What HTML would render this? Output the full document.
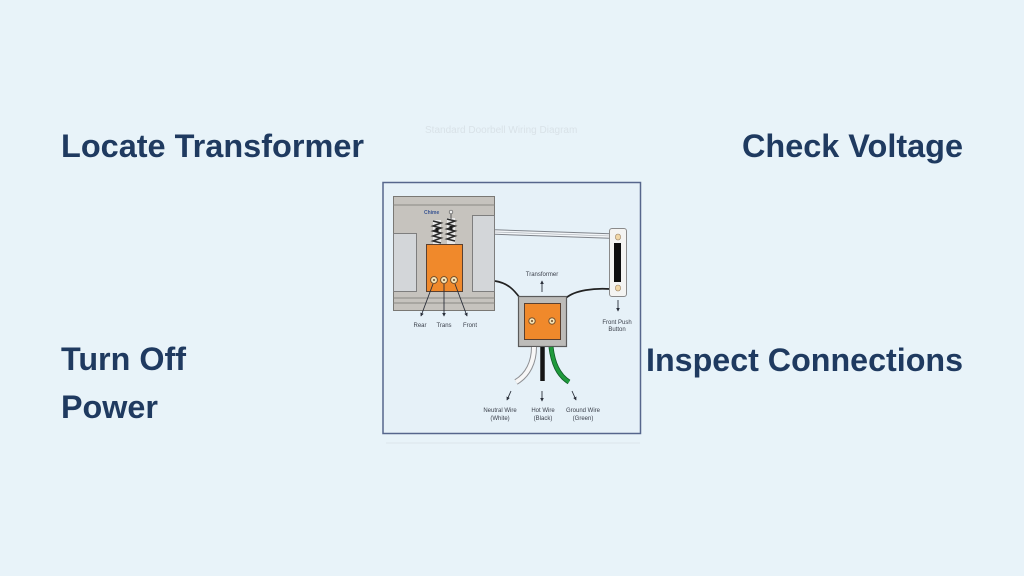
<!DOCTYPE html>
<html>
<head>
<meta charset="utf-8">
<style>
  html,body{margin:0;padding:0;background:#e8f3f9;}
  body{width:1024px;height:576px;overflow:hidden;}
  svg{display:block;}
  .h{font-family:"Liberation Sans",Arial,sans-serif;font-weight:bold;font-size:32.3px;fill:#1f3a60;}
  .s{font-family:"Liberation Sans",Arial,sans-serif;font-size:6px;fill:#3a3f4a;}
</style>
</head>
<body>
<svg width="1024" height="576" viewBox="0 0 1024 576" xmlns="http://www.w3.org/2000/svg">
  <defs>
    <marker id="ah" viewBox="0 0 6 6" refX="5" refY="3" markerWidth="4" markerHeight="4" orient="auto">
      <path d="M0,0 L6,3 L0,6 z" fill="#2a2f3a"/>
    </marker>
  </defs>
  <rect x="0" y="0" width="1024" height="576" fill="#e8f3f9"/>

  <!-- headings -->
  <text class="h" x="61" y="157" textLength="303" lengthAdjust="spacingAndGlyphs">Locate Transformer</text>
  <text class="h" x="742" y="157" textLength="221" lengthAdjust="spacingAndGlyphs">Check Voltage</text>
  <text class="h" x="61" y="370">Turn Off</text>
  <text class="h" x="61" y="418">Power</text>
  <text class="h" x="646" y="371" textLength="317" lengthAdjust="spacingAndGlyphs">Inspect Connections</text>

  <!-- faint ghost text -->
  <text x="425" y="133" font-family="Liberation Sans, sans-serif" font-size="10" fill="#d9e2e8">Standard Doorbell Wiring Diagram</text>
  <line x1="386" y1="443" x2="640" y2="443" stroke="#dde6ec" stroke-width="1"/>

  <!-- diagram frame -->
  <rect x="383" y="182.5" width="257.5" height="251" fill="#e6f1f8" stroke="#56668c" stroke-width="1.5"/>

  <!-- chime housing -->
  <rect x="393.5" y="196.5" width="101" height="114" fill="#c6c3be" stroke="#7a7874" stroke-width="1"/>
  <line x1="393.5" y1="205" x2="494.5" y2="205" stroke="#8a8884" stroke-width="1"/>
  <line x1="393.5" y1="298" x2="494.5" y2="298" stroke="#8a8884" stroke-width="1"/>
  <line x1="393.5" y1="303" x2="494.5" y2="303" stroke="#8a8884" stroke-width="1"/>
  <rect x="393.5" y="233.5" width="23" height="58" fill="#d3d6d9" stroke="#7e7e7e" stroke-width="1"/>
  <rect x="472.5" y="215.5" width="22" height="76" fill="#d3d6d9" stroke="#7e7e7e" stroke-width="1"/>

  <!-- springs -->
  <rect x="433" y="220" width="8" height="24" fill="#e8e8e8"/>
  <rect x="447" y="218" width="8" height="26" fill="#e8e8e8"/>
  <g stroke="#2a2a2a" stroke-width="1.5" fill="none">
    <path d="M433,221 L441,223 L433,226 L441,228 L433,231 L441,233 L433,236 L441,238 L433,241 L441,243"/>
    <path d="M447,219 L455,221 L447,224 L455,226 L447,229 L455,231 L447,234 L455,236 L447,239 L455,241"/>
  </g>
  <rect x="435.5" y="228" width="3" height="4" fill="#1a1a1a"/>
  <rect x="449.5" y="226" width="3" height="4" fill="#1a1a1a"/>
  <line x1="451" y1="213" x2="451" y2="219" stroke="#555" stroke-width="1"/>
  <circle cx="451" cy="212" r="1.8" fill="#eee" stroke="#555" stroke-width="0.7"/>
  <text x="424" y="214" font-family="Liberation Sans, sans-serif" font-size="5" font-weight="bold" fill="#3a5592">Chime</text>

  <!-- orange chime block -->
  <rect x="426.5" y="244.5" width="36" height="47" fill="#f0892b" stroke="#5a4030" stroke-width="1"/>
  <g fill="#f5e2b4" stroke="#6a4a2a" stroke-width="0.9">
    <circle cx="434" cy="280" r="3.4"/>
    <circle cx="444" cy="280" r="3.4"/>
    <circle cx="454" cy="280" r="3.4"/>
  </g>
  <g fill="#6a4a2a">
    <circle cx="434" cy="280" r="1"/>
    <circle cx="444" cy="280" r="1"/>
    <circle cx="454" cy="280" r="1"/>
  </g>
  <g stroke="#2a2f3a" stroke-width="0.9" marker-end="url(#ah)">
    <line x1="433" y1="284" x2="421" y2="316"/>
    <line x1="444" y1="284" x2="444" y2="316"/>
    <line x1="455" y1="284" x2="467" y2="316"/>
  </g>
  <text class="s" x="420" y="327" text-anchor="middle">Rear</text>
  <text class="s" x="444" y="327" text-anchor="middle">Trans</text>
  <text class="s" x="470" y="327" text-anchor="middle">Front</text>

  <!-- double wire chime to button -->
  <path d="M495,232 L610,236" stroke="#7e838a" stroke-width="5.5" fill="none"/>
  <path d="M495,232 L610,236" stroke="#f2f5f8" stroke-width="3.5" fill="none"/>
  <path d="M495,232 L610,236" stroke="#a3a8ae" stroke-width="0.6" fill="none"/>

  <!-- black wires to transformer -->
  <path d="M495,281 C508,283 514,290 520,298" stroke="#222" stroke-width="1.7" fill="none"/>
  <path d="M566,298 C575,290 595,288 610,289" stroke="#222" stroke-width="1.7" fill="none"/>

  <!-- push button -->
  <rect x="609.5" y="228.5" width="17" height="68" rx="2.5" fill="#f4f4f2" stroke="#8a8a8a" stroke-width="1"/>
  <rect x="614" y="243" width="7" height="39" fill="#0e0e0e"/>
  <ellipse cx="618" cy="237" rx="2.6" ry="3" fill="#f1d7a6" stroke="#9a8060" stroke-width="0.6"/>
  <ellipse cx="618" cy="288" rx="2.6" ry="3" fill="#f1d7a6" stroke="#9a8060" stroke-width="0.6"/>
  <line x1="618" y1="300" x2="618" y2="311" stroke="#2a2f3a" stroke-width="0.9" marker-end="url(#ah)"/>
  <text class="s" x="617" y="324" text-anchor="middle">Front Push</text>
  <text class="s" x="617" y="331" text-anchor="middle">Button</text>

  <!-- transformer -->
  <text class="s" x="542" y="276" text-anchor="middle">Transformer</text>
  <line x1="542" y1="292" x2="542" y2="281" stroke="#2a2f3a" stroke-width="0.9" marker-end="url(#ah)"/>
  <rect x="518.5" y="296.5" width="48" height="50" fill="#bdbcb9" stroke="#5a5a5a" stroke-width="1.2"/>
  <rect x="524.5" y="303.5" width="36" height="36" fill="#f0892b" stroke="#5a4030" stroke-width="1"/>
  <g fill="#f5e2b4" stroke="#6a4a2a" stroke-width="0.9">
    <circle cx="532" cy="321" r="3.2"/>
    <circle cx="552" cy="321" r="3.2"/>
  </g>
  <circle cx="532" cy="321" r="1" fill="#6a4a2a"/>
  <circle cx="552" cy="321" r="1" fill="#6a4a2a"/>

  <!-- wires out -->
  <path d="M534,347 C534,362 528,375 516,382" stroke="#8e9094" stroke-width="6" fill="none"/>
  <path d="M534,347 C534,362 528,375 516,382" stroke="#f7f7f7" stroke-width="4" fill="none"/>
  <path d="M542.5,347 L542.5,381" stroke="#151515" stroke-width="4.5" fill="none"/>
  <path d="M551,347 C553,363 558,375 569,382" stroke="#0f5a25" stroke-width="5" fill="none"/>
  <path d="M551,347 C553,363 558,375 569,382" stroke="#1f9a3c" stroke-width="3.4" fill="none"/>

  <g stroke="#2a2f3a" stroke-width="0.9" marker-end="url(#ah)">
    <line x1="511" y1="391" x2="507" y2="400"/>
    <line x1="542" y1="391" x2="542" y2="401"/>
    <line x1="572" y1="391" x2="576" y2="400"/>
  </g>
  <text class="s" x="500" y="412" text-anchor="middle">Neutral Wire</text>
  <text class="s" x="500" y="420" text-anchor="middle">(White)</text>
  <text class="s" x="543" y="412" text-anchor="middle">Hot Wire</text>
  <text class="s" x="543" y="420" text-anchor="middle">(Black)</text>
  <text class="s" x="583" y="412" text-anchor="middle">Ground Wire</text>
  <text class="s" x="583" y="420" text-anchor="middle">(Green)</text>
</svg>
</body>
</html>
